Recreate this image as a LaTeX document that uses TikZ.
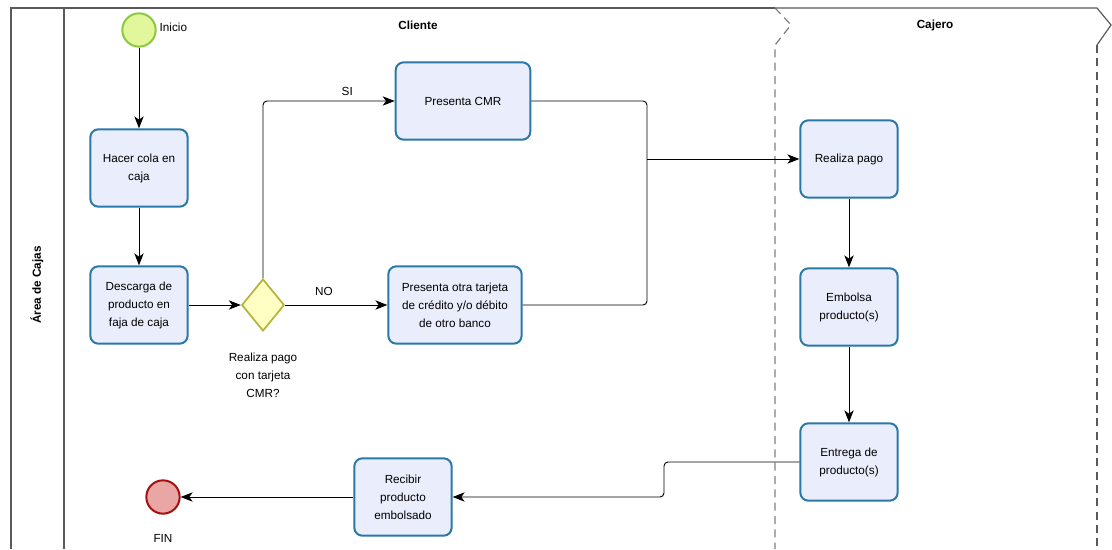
\documentclass[tikz,border=0pt]{standalone}
\usepackage{fontspec}
\setmainfont{Liberation Sans}
\usetikzlibrary{shapes.geometric,arrows.meta}
\definecolor{taskfill}{HTML}{EAEEFC}
\definecolor{taskline}{HTML}{2A78A8}
\definecolor{gatefill}{HTML}{FFFFC4}
\definecolor{gateline}{HTML}{B4B43C}
\definecolor{startfill}{HTML}{E2F79C}
\definecolor{startline}{HTML}{8DC63F}
\definecolor{endfill}{HTML}{EAA5A5}
\definecolor{endline}{HTML}{A50F0F}
\definecolor{laneline}{HTML}{5A5A5A}
\begin{document}
\begin{tikzpicture}[x=0.75pt,y=-0.75pt,
  font=\fontsize{8.8}{13.5}\selectfont,
  task/.style={draw=taskline,fill=taskfill,line width=1.5pt,rounded corners=6pt,
    minimum width=73pt,minimum height=58pt,align=center,inner sep=2pt},
  gate/.style={diamond,draw=gateline,fill=gatefill,line width=1.3pt,
    minimum width=32pt,minimum height=39pt,inner sep=0pt},
  event/.style={circle,line width=1.5pt,minimum size=25pt,inner sep=0pt},
  flow/.style={-{Stealth[length=9pt,width=7pt,inset=2.5pt]},line width=0.7pt,rounded corners=3pt},
  lane/.style={draw=laneline,line width=0.9pt},
  split/.style={dash pattern=on 6pt off 4pt}]
\useasboundingbox (0,0) rectangle (1112,549);

% pool and lanes
\draw[lane] (11,549) -- (11,8) -- (775,8);
\draw[lane] (64,8) -- (64,549);
\draw[lane,draw=gray,split] (775,8) -- (791,25) -- (775,45) -- (775,549);
\draw[lane] (775,8) -- (1097,8) -- (1111,25) -- (1097,45);
\draw[lane,split] (1097,45) -- (1097,549);
\node[rotate=90,font=\fontsize{8.8}{10}\selectfont\bfseries] (pool) at (37,285) {Área de Cajas};
\node[font=\fontsize{8.8}{10}\selectfont\bfseries] (cliente) at (418,25) {Cliente};
\node[font=\fontsize{8.8}{10}\selectfont\bfseries] (cajero) at (935,25) {Cajero};

% cliente
\node[event,draw=startline,fill=startfill] (inicio) at (139,30) {};
\node[anchor=west] (inicioL) at (155,27) {Inicio};
\node[task] (cola) at (139,168) {Hacer cola en\\caja};
\node[task] (descarga) at (139,305) {Descarga de\\producto en\\faja de caja};
\node[gate] (decide) at (263,305) {};
\node[align=center] (decideL) at (263,375) {Realiza pago\\con tarjeta\\CMR?};
\node[task,minimum width=101pt] (cmr) at (463,101) {Presenta CMR};
\node[task,minimum width=100pt] (otra) at (455,305) {Presenta otra tarjeta\\de crédito y/o débito\\de otro banco};
\node[task] (recibir) at (403,497) {Recibir\\producto\\embolsado};
\node[event,draw=endline,fill=endfill] (fin) at (163,497) {};
\node (finL) at (163,538) {FIN};

% cajero
\node[task] (pago) at (849,159) {Realiza pago};
\node[task] (embolsa) at (849,307) {Embolsa\\producto(s)};
\node[task] (entrega) at (849,462) {Entrega de\\producto(s)};

\coordinate (junta) at (647,159);
\coordinate (desvio) at (664,480);

\draw[flow] (inicio) -- (cola);
\draw[flow] (cola) -- (descarga);
\draw[flow] (descarga) -- (decide);
\draw[flow] (decide.north) |- node[pos=0.82,above] {SI} (cmr.west);
\draw[flow] (decide) -- node[pos=0.38,above=3pt] {NO} (otra);
\draw[line width=0.7pt,rounded corners=3pt] (cmr.east) -| (junta);
\draw[line width=0.7pt,rounded corners=3pt] (otra.east) -| (junta);
\draw[flow] (junta) -- (pago.west);
\draw[flow] (pago) -- (embolsa);
\draw[flow] (embolsa) -- (entrega);
\draw[flow] (entrega.west) -| (desvio) |- (recibir.east);
\draw[flow] (recibir) -- (fin);
\end{tikzpicture}
\end{document}
